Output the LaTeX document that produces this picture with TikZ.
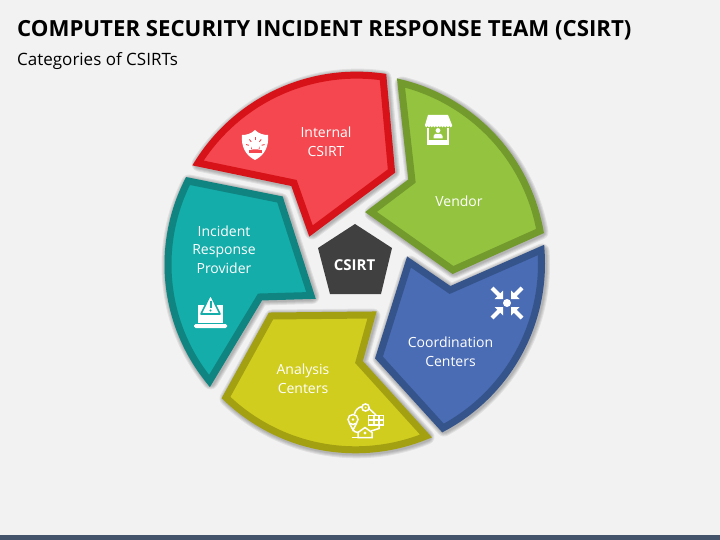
\documentclass[tikz,border=0pt]{standalone}
\usepackage{fontspec}
\setmainfont{Open Sans}
\definecolor{pagebg}{HTML}{F2F2F2}
\definecolor{barcol}{HTML}{44546A}
\definecolor{redfill}{HTML}{F4474F}
\definecolor{redline}{HTML}{D71218}
\definecolor{greenfill}{HTML}{94C43F}
\definecolor{greenline}{HTML}{739A2D}
\definecolor{bluefill}{HTML}{4A6CB5}
\definecolor{blueline}{HTML}{35548C}
\definecolor{yellowfill}{HTML}{D0CD1F}
\definecolor{yellowline}{HTML}{A3A112}
\definecolor{tealfill}{HTML}{14ADA9}
\definecolor{tealline}{HTML}{0F8481}
\definecolor{hubfill}{HTML}{404040}
\tikzset{
	rim/.style={
		bend left=33,
		looseness=.93},
	petal/.style={
		line width=7pt,
		line join=miter,
		miter limit=20},
	haze/.style={
		draw=black,
		opacity=.07,
		line join=round,
		xshift=1pt,
		yshift=-1pt},
	petaltext/.style={
		text=white,
		font=\fontsize{14}{18.6}\selectfont,
		align=center},
	icon/.style={
		draw=white,
		line width=1.5pt},
	iconfill/.style={
		fill=white}
}
\newcommand{\petalshape}[3]{
	\foreach \w in {15,13,11,9}{
		\draw[haze, line width=\w pt] #3;
	}
	\draw[petal, draw=#1, fill=#2] #3;
}
\begin{document}
\begin{tikzpicture}[x=1pt,y=-1pt]
    \useasboundingbox (0,0) rectangle (720,540);
    \fill[pagebg] (0,0) rectangle (720,540);
    \fill[barcol] (0,535) rectangle (720,540);

    \node[anchor=west, inner sep=0pt, font=\fontsize{22.2}{26}\selectfont\bfseries] (title) at (17,30.5) {COMPUTER SECURITY INCIDENT RESPONSE TEAM (CSIRT)};
    \node[anchor=west, inner sep=0pt, font=\fontsize{17}{20}\selectfont] (subtitle) at (17,61) {Categories of CSIRTs};

    \petalshape{redline}{redfill}{(198,163) to[rim] (383,77) -- (391.5,171) -- (311,231) -- (294,183) -- cycle}
    \petalshape{greenline}{greenfill}{(401,83) to[rim] (540,231) -- (453,270) -- (371,212) -- (412,181) -- cycle}
    \petalshape{blueline}{bluefill}{(541,250) to[rim] (443,428) -- (379,357.5) -- (409,262) -- (450,290) -- cycle}
    \petalshape{yellowline}{yellowfill}{(426,436) to[rim] (226,397.5) -- (271,316) -- (372,315) -- (359,362) -- cycle}
    \petalshape{tealline}{tealfill}{(209.5,381) to[rim] (188,181) -- (280,199.5) -- (311,295.5) -- (260,297) -- cycle}

    \fill[hubfill] (355,224) -- (392,248) -- (381,294) -- (330,294) -- (318,248) -- cycle;
    \node[text=white, font=\fontsize{15}{18}\selectfont\bfseries] (hub) at (354.5,265) {CSIRT};

    \node[petaltext] (internal) at (326,141.5) {Internal\\CSIRT};
    \node[petaltext] (vendor) at (459,201) {Vendor};
    \node[petaltext] (coordination) at (450.5,351.5) {Coordination\\Centers};
    \node[petaltext] (analysis) at (303,378.5) {Analysis\\Centers};
    \node[petaltext] (provider) at (224,249.5) {Incident\\Response\\Provider};

    % shield
    \fill[iconfill] (255,130) .. controls (259,134) and (264,135) .. (268,135) .. controls (269,146) and (265,155) .. (255,160) .. controls (245,155) and (241,146) .. (242,135) .. controls (246,135) and (251,134) .. (255,130) -- cycle;
    \fill[redfill] (251,149.3) -- (251,146.5) arc[start angle=180, end angle=0, radius=4.3] -- (259.6,149.3) -- cycle;
    \fill[redfill] (249,150.5) rectangle (262,153);
    \foreach \a in {15,52,90,128,165}{
        \draw[redfill, line width=.9pt] (255.3,147) ++(-\a:6.6) -- ++(-\a:3);
    }

    % stall
    \fill[iconfill] (428,115) -- (448,115) -- (452,125) -- (452,126) arc[start angle=0, end angle=180, radius=1.35] arc[start angle=0, end angle=180, radius=1.35] arc[start angle=0, end angle=180, radius=1.35] arc[start angle=0, end angle=180, radius=1.35] arc[start angle=0, end angle=180, radius=1.35] arc[start angle=0, end angle=180, radius=1.35] arc[start angle=0, end angle=180, radius=1.35] arc[start angle=0, end angle=180, radius=1.35] arc[start angle=0, end angle=180, radius=1.35] arc[start angle=0, end angle=180, radius=1.35] -- (425,125) -- cycle;
    \fill[iconfill] (427,128) rectangle (449,145);
    \fill[greenfill] (429,128) rectangle (447,140);
    \fill[iconfill] (438,130.5) circle (2.4);
    \fill[iconfill] (433.5,138.5) -- (433.5,136) -- (435,134) -- (441,134) -- (442.5,136) -- (442.5,138.5) -- cycle;

    % arrows in
    \fill[iconfill] (507,303) circle (4);
    \foreach \a in {0,90,180,270}{
        \begin{scope}[rotate around={\a:(507,303)}]
            \fill[iconfill] (503,299) -- (503,290.5) -- (494.5,299) -- cycle;
            \draw[white, line width=4pt] (492,288) -- (499,295);
        \end{scope}
    }

    % network
    \draw[icon] (365.5,407.5) circle (3.6);
    \fill[iconfill] (365.5,407.5) circle (1);
    \draw[icon] (353,419.5) circle (5);
    \draw[icon] (349.4,423.2) -- (353,430) -- (356.6,423.2);
    \fill[iconfill] (353,419.5) circle (1.4);
    \draw[icon] (362,406.5) .. controls (358,407.5) and (355.5,410) .. (354.5,414);
    \draw[icon] (369,408.5) -- (376,415);
    \fill[iconfill] (368,415) rectangle (384,425.5);
    \foreach \x in {369.3,374.6,379.9}{
        \foreach \y in {416.3,420.9}{
            \fill[yellowfill] (\x,\y) rectangle +(3.3,3);
        }
    }
    \draw[icon] (379,425.5) -- (379,428.5) -- (371,431);
    \draw[icon] (353,430) .. controls (354,431.5) and (356,432.5) .. (358.5,432.5);
    \draw[icon] (358,437.5) -- (358,432.5) -- (365,427.5) -- (372,432.5) -- (372,437.5) -- cycle;
    \draw[icon] (351.5,437.5) -- (358,437.5);
    \fill[iconfill] (365,433) circle (1.6);

    % laptop
    \fill[iconfill] (198,305) rectangle (223,323);
    \fill[iconfill, rounded corners=1.5pt] (194,324) rectangle (227,328);
    \draw[tealfill, line width=1.6pt, fill=white, line join=round] (210.5,294.5) -- (220,314) -- (201,314) -- cycle;
    \draw[tealfill, line width=2pt] (210.5,300.5) -- (210.5,307.5);
    \fill[tealfill] (210.5,310.5) circle (1.1);
\end{tikzpicture}
\end{document}
